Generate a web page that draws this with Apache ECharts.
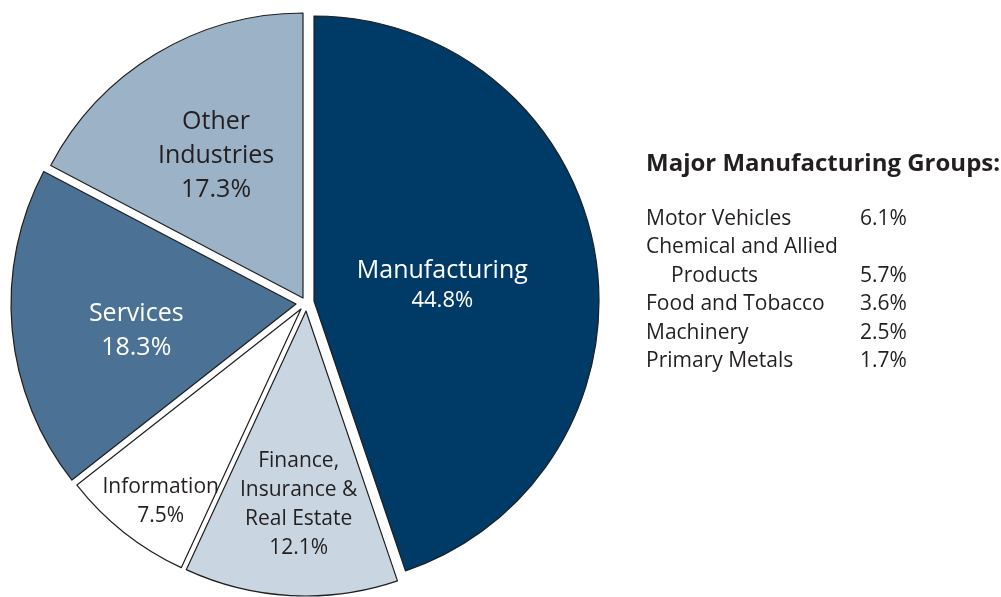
<!DOCTYPE html>
<html>
<head>
<meta charset="utf-8">
<script src="https://cdn.jsdelivr.net/npm/echarts@6/dist/echarts.min.js"></script>
<style>
html,body{margin:0;padding:0;background:#fff;}
#chart{width:1001px;height:597px;}
</style>
</head>
<body>
<div id="chart"></div>
<script>
// ---- data ----
const categories = ['Manufacturing', 'Finance, Insurance & Real Estate', 'Information', 'Services', 'Other Industries'];
const sliceLabels = ['Manufacturing', 'Finance,\nInsurance &\nReal Estate', 'Information', 'Services', 'Other\nIndustries'];
const values = [44.8, 12.1, 7.5, 18.3, 17.3];

const groupTitle = 'Major Manufacturing Groups:';
const groupNames = [['Motor Vehicles'], ['Chemical and Allied', 'Products'], ['Food and Tobacco'], ['Machinery'], ['Primary Metals']];
const groupValues = [6.1, 5.7, 3.6, 2.5, 1.7];

// ---- styling ----
const FONT = '"Open Sans", sans-serif';
const TXT = '#231f20';
const sliceColors = ['#003a66', '#c9d6e1', '#ffffff', '#4b7194', '#9cb2c6'];
const labelColors = ['#ffffff', TXT, TXT, '#ffffff', TXT];
const sliceShift = [[8, -2], [0, 8], [-5, 6], [-10, 1], [-3, -5]];   // exploded offsets (px)
const labelRadiusFrac = [0.46, 0.67, 0.8, 0.57, 0.6];
const labelNudge = [[-4, 7], [3, 0], [3, 11], [5, 12], [3, 7]];
const labelFont = [25, 21, 21, 25, 25];
const labelLH = [29, 29, 29, 34, 34];
const BASE = [306, 303];
const R = 285;

const total = values.reduce((a, b) => a + b, 0);
let cum = 0;
const midAngles = values.map(v => { const m = (cum + v / 2) / total * 360; cum += v; return m; });

const series = values.map((_, i) => {
  const a = midAngles[i] * Math.PI / 180;
  const d = (labelRadiusFrac[i] - 0.5) * R;
  return {
    type: 'pie',
    silent: true,
    animation: false,
    center: [BASE[0] + sliceShift[i][0], BASE[1] + sliceShift[i][1]],
    radius: [0, R],
    startAngle: 90,
    clockwise: true,
    avoidLabelOverlap: false,
    labelLine: { show: false },
    emphasis: { disabled: true },
    data: values.map((v, j) => {
      if (j !== i) {
        return { value: v, name: categories[j], itemStyle: { color: 'rgba(0,0,0,0)', borderWidth: 0 }, label: { show: false } };
      }
      return {
        value: v,
        name: categories[j],
        itemStyle: { color: sliceColors[j], borderColor: '#1e1e1e', borderWidth: 1.2 },
        label: {
          show: true,
          position: 'inside',
          offset: [d * Math.sin(a) + labelNudge[j][0], -d * Math.cos(a) + labelNudge[j][1]],
          formatter: j === 0
            ? '{a|' + sliceLabels[j] + '}\n{b|' + v.toFixed(1) + '%}'
            : sliceLabels[j] + '\n' + v.toFixed(1) + '%',
          color: labelColors[j],
          fontFamily: FONT,
          fontSize: labelFont[j],
          lineHeight: labelLH[j],
          align: 'center',
          rich: j === 0 ? {
            a: { fontFamily: FONT, fontSize: 25, lineHeight: 30, color: '#fff' },
            b: { fontFamily: FONT, fontSize: 22, lineHeight: 30, color: '#fff' }
          } : undefined
        }
      };
    })
  };
});

// ---- right-hand text block ----
const graphic = [{
  type: 'text', x: 646, y: 164,
  style: { text: groupTitle, font: 'bold 24px ' + FONT, fill: TXT, verticalAlign: 'middle' }
}];
let row = 0;
groupNames.forEach((lines, i) => {
  lines.forEach((ln, k) => {
    const yy = 219 + row * 28.5;
    graphic.push({
      type: 'text', x: k === 0 ? 646 : 671, y: yy,
      style: { text: ln, font: '21px ' + FONT, fill: TXT, verticalAlign: 'middle' }
    });
    if (k === lines.length - 1) {
      graphic.push({
        type: 'text', x: 860, y: yy,
        style: { text: groupValues[i].toFixed(1) + '%', font: '21px ' + FONT, fill: TXT, verticalAlign: 'middle' }
      });
    }
    row++;
  });
});

const chart = echarts.init(document.getElementById('chart'), null, { renderer: 'canvas' });
chart.setOption({
  backgroundColor: '#ffffff',
  animation: false,
  series: series,
  graphic: graphic
});
</script>
</body>
</html>
